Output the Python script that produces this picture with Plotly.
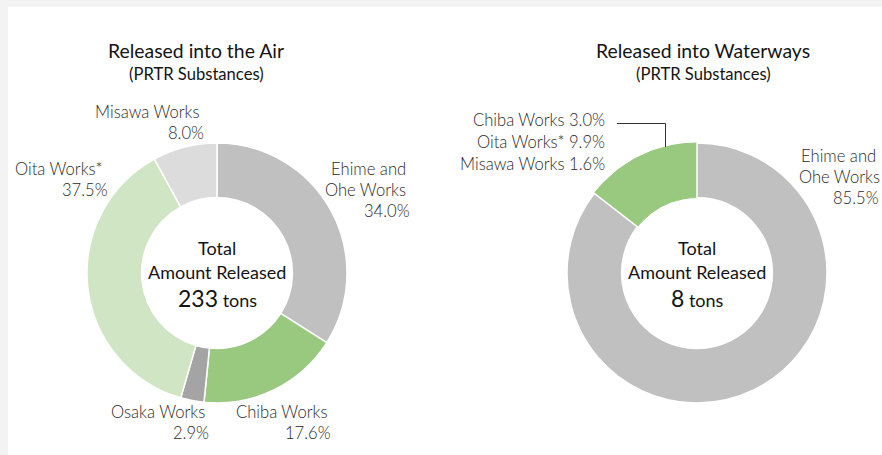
import plotly.graph_objects as go

W, H = 882, 455

# ---- data ----
air_sites = ["Ehime and Ohe Works", "Chiba Works", "Osaka Works", "Oita Works*", "Misawa Works"]
air_pct = [34.0, 17.6, 2.9, 37.5, 8.0]
air_colors = ["#bfc0bf", "#98c97e", "#a3a4a3", "#cfe5c3", "#dcdcdc"]
air_total = 233

water_sites = ["Misawa Works", "Oita Works*", "Chiba Works", "Ehime and Ohe Works"]
water_pct = [1.6, 9.9, 3.0, 85.5]
water_colors = ["#98c97e", "#98c97e", "#98c97e", "#bfc0bf"]
water_total = 8

titles = ["Released into the Air", "Released into Waterways"]
subtitle = "(PRTR Substances)"
unit = "tons"

FONT = "Lato"
TXT = "#2a2a2a"
DARK = "#141414"
LBL = 16.6


def px(x):
    return x / W


def py(y):
    return 1 - y / H


fig = go.Figure()

fig.add_trace(go.Pie(
    labels=air_sites, values=air_pct, sort=False, direction="clockwise",
    rotation=0, hole=0.58, textinfo="none", hoverinfo="skip",
    marker=dict(colors=air_colors, line=dict(color="white", width=1.5)),
    domain=dict(x=[px(87), px(347)], y=[py(403), py(143)]),
    showlegend=False,
))
green_share = sum(water_pct[:3]) / sum(water_pct)
fig.add_trace(go.Pie(
    labels=water_sites, values=water_pct, sort=False, direction="clockwise",
    rotation=-360 * green_share, hole=0.58, textinfo="none", hoverinfo="skip",
    marker=dict(colors=water_colors,
                line=dict(color=["#98c97e", "#98c97e", "#98c97e", "white"],
                          width=[1, 1, 1, 1.5])),
    domain=dict(x=[px(567), px(827)], y=[py(403), py(143)]),
    showlegend=False,
))

ann = []


def text(x, y, s, size, color=TXT, anchor="right", weight=300):
    ann.append(dict(x=px(x), y=py(y), xref="paper", yref="paper", text=s,
                    showarrow=False, xanchor=anchor, yanchor="middle",
                    font=dict(family=FONT, size=size, color=color, weight=weight)))


# titles
for cx, t in zip([196, 703], titles):
    text(cx, 50, t, 19.4, DARK, "center", 400)
    text(cx, 74, subtitle, 16.6, DARK, "center", 400)

# centre text
for cx, tot in zip([217, 697], [air_total, water_total]):
    text(cx, 248, "Total", 18, DARK, "center", 400)
    text(cx, 272, "Amount Released", 18, DARK, "center", 400)
    text(cx, 298, f"<span style='font-size:23px'>{tot}</span> {unit}", 18, DARK, "center", 400)


def pct(v):
    return f"{v:.1f}%"


# left labels
text(408, 169, "Ehime and", LBL)
text(408, 190, "Ohe Works", LBL)
text(412, 211, pct(air_pct[0]), LBL)
text(329, 412, air_sites[1], LBL)
text(333, 433, pct(air_pct[1]), LBL)
text(207, 412, air_sites[2], LBL)
text(211, 433, pct(air_pct[2]), LBL)
text(104, 169, air_sites[3], LBL)
text(110, 190, pct(air_pct[3]), LBL)
text(202, 112, air_sites[4], LBL)
text(206, 133, pct(air_pct[4]), LBL)

# right labels
text(607, 120, f"{water_sites[2]} {pct(water_pct[2])}", LBL)
text(607, 142, f"{water_sites[1]} {pct(water_pct[1])}", LBL)
text(607, 164, f"{water_sites[0]} {pct(water_pct[0])}", LBL)
text(799, 156, "Ehime and", LBL, anchor="left")
text(797, 177, "Ohe Works", LBL, anchor="left")
text(881, 198, pct(water_pct[3]), LBL, anchor="right")

shapes = [
    dict(type="rect", xref="paper", yref="paper", x0=0, x1=1, y0=py(7), y1=1,
         fillcolor="#f3f3f3", line=dict(width=0), layer="below"),
    dict(type="rect", xref="paper", yref="paper", x0=0, x1=px(8), y0=0, y1=1,
         fillcolor="#f3f3f3", line=dict(width=0), layer="below"),
    dict(type="path", xref="paper", yref="paper",
         path=f"M {px(617)},{py(123.5)} L {px(665.5)},{py(123.5)} L {px(665.5)},{py(147)}",
         line=dict(color="#333333", width=1)),
]

fig.update_layout(
    width=W, height=H, margin=dict(l=0, r=0, t=0, b=0),
    paper_bgcolor="white", plot_bgcolor="white",
    annotations=ann, shapes=shapes, showlegend=False,
)

fig.write_html(
    "out.html",
    config={"displayModeBar": False},
    post_script="document.body.style.margin='0';document.body.style.overflow='hidden';",
)
